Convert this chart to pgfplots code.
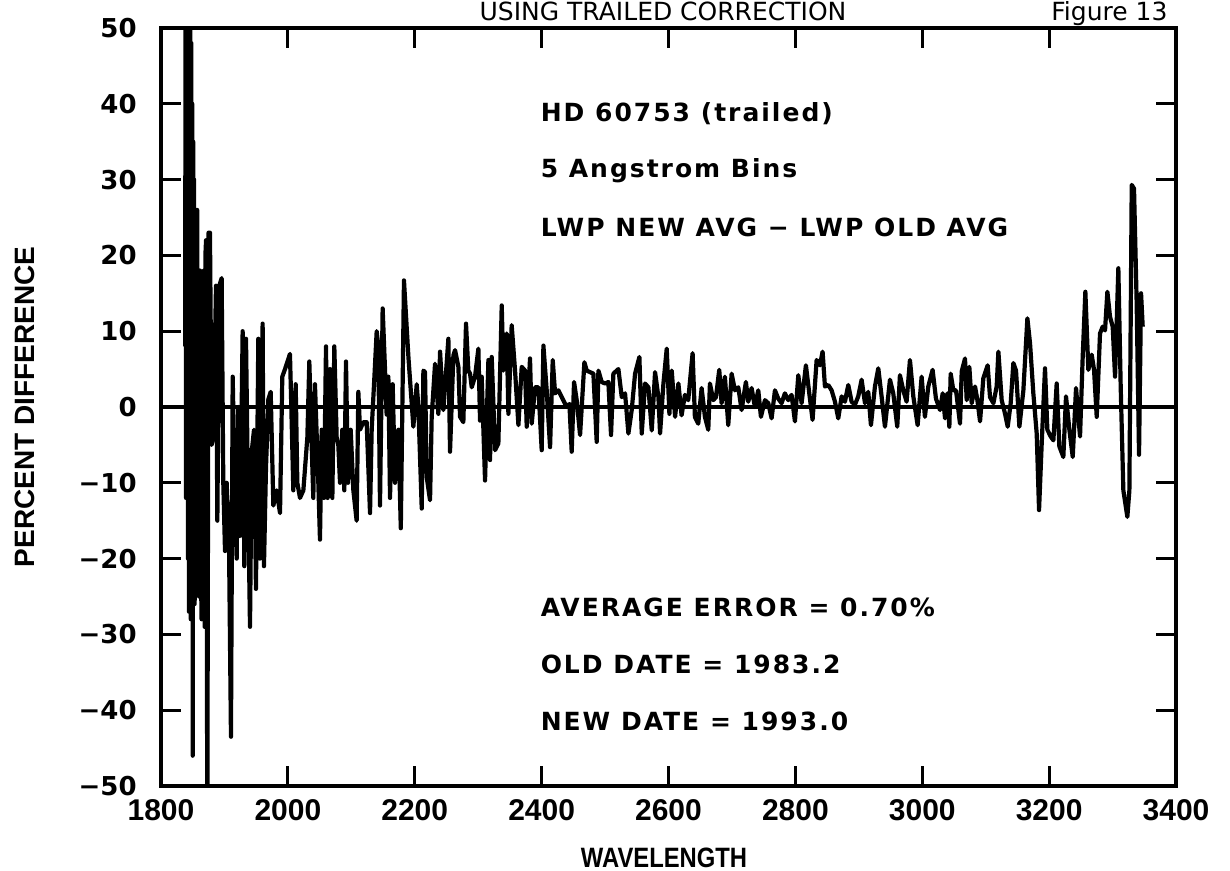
\documentclass[border=0pt]{standalone}
\usepackage{fontspec}
\setmainfont{Liberation Sans}
\newfontfamily\djv{DejaVu Sans}
\newfontfamily\annfont[LetterSpace=8]{DejaVu Sans}
\newfontfamily\labfont[FakeStretch=0.85]{Liberation Sans}
\usepackage{pgfplots}
\pgfplotsset{compat=1.18}
\usetikzlibrary{calc}
\begin{document}
\begin{tikzpicture}
\begin{axis}[
  name=ax,
  scale only axis, width=507.5pt, height=379pt,
  xmin=1800, xmax=3400, ymin=-50, ymax=50,
  xtick={1800,2000,2200,2400,2600,2800,3000,3200,3400},
  ytick={-50,-40,-30,-20,-10,0,10,20,30,40,50},
  xticklabels={1800,2000,2200,2400,2600,2800,3000,3200,3400},
  yticklabels={−50,−40,−30,−20,−10,0,10,20,30,40,50},
  tick align=inside, major tick length=10pt,
  every tick/.style={line width=1.6pt, black},
  axis line style={line width=1.8pt},
  xticklabel style={font=\fontsize{15}{15}\selectfont\bfseries, anchor=center, yshift=-12pt},
  yticklabel style={font=\djv\fontsize{13}{13}\selectfont\bfseries, anchor=east, inner sep=0pt, xshift=-12pt},
  clip mode=individual,
]
\addplot[black, line width=1.6pt] coordinates {(1800,0) (3400,0)};
\addplot[black, line width=2.1pt, line join=round] coordinates {
(1838,8) (1838.8,55) (1839.5,-12) (1840.2,55) (1841,-10) (1841.7,55) (1842.5,-20) (1843.2,55) (1844,-27) (1844.8,55) (1845.5,-25) (1846.2,52) (1847,-28) (1847.8,48) (1848.5,-22) (1849.2,40) (1850,-46) (1850.8,35) (1851.5,-20) (1852.2,30) (1853,-26) (1855,-4)
(1857,26) (1858.5,-10) (1860,-25) (1861.5,18) (1862.7,-20) (1864,-28) (1865.3,17) (1866.7,18) (1868.8,-29) (1870,20) (1871,22) (1873,-56) (1875,23) (1876,-3) (1877.2,23)
(1879.8,-5) (1882.5,-4) (1886.7,16) (1888.8,-15) (1891.9,16) (1895.6,17) (1898.2,-10) (1900.9,-19) (1903.5,-10) (1907.2,-18)
(1910.3,-43.5) (1913,4) (1916.6,-12) (1919.3,-20) (1921.9,0) (1924.5,-17) (1928.7,10) (1931.3,-21) (1934,9) (1936.6,-8)
(1940.3,-29) (1942.9,-6) (1946.6,-3) (1949.7,-24) (1953.4,9) (1956,-20) (1960.2,11) (1962.3,-21) (1965.5,-8) (1969.2,1)
(1972.9,2) (1977.1,-13) (1982.3,-11) (1987.6,-14) (1991.2,4) (1995.5,5) (2003.3,7) (2006,-2) (2008.6,-11) (2012.3,3)
(2014.9,-10) (2019.1,-12) (2024.4,-11) (2030.7,-4) (2033.8,6) (2037.5,-5) (2040.1,-12) (2042.7,3) (2048,-10) (2050.6,-17.5)
(2053.3,-3) (2056.9,-12) (2060.1,8) (2062.7,-12) (2066.4,5) (2070.1,-12) (2073.2,8) (2076.9,-4) (2079.5,-5) (2082.2,-10)
(2085.8,-3) (2089,-11) (2091.6,6) (2094.8,-10) (2099,-3) (2103.2,-11) (2108.4,-15) (2111.1,2) (2113.7,-3) (2119,-2)
(2124.2,-2) (2129.5,-14) (2132.1,-3) (2135.8,3) (2140,10) (2142.6,8) (2145.2,-13) (2149.4,13) (2153.1,5) (2155.7,-1)
(2158.4,4) (2161,-12) (2165.2,3) (2168.9,-10) (2174.1,-3) (2178,-16) (2183,16.7) (2190,6.6) (2197.8,-2.6) (2203.1,3)
(2205.7,0) (2211,-13.4) (2213.6,4.8) (2216.2,4.6) (2218.8,-9.2) (2224.1,-12.3) (2226.7,-1.3) (2232,5.7) (2237.2,-0.9) (2239.9,7.3)
(2245.1,-0.4) (2253,9) (2255.6,-5.9) (2260.9,6.8) (2263.5,7.5) (2268.8,5.3) (2271.4,-1.3) (2276.6,-2) (2280.8,11) (2284.5,4.8)
(2287.2,4.4) (2289.8,2.6) (2295,4) (2300.3,7.7) (2302.9,-1.8) (2305.5,4) (2310.8,-9.7) (2316.1,6.2) (2318.7,-7) (2321.3,6.6)
(2326.6,-5.7) (2331.8,-4.8) (2337.1,13.4) (2339.7,4.8) (2345,9.7) (2347.6,-0.9) (2352.8,10.8) (2358.1,4.8) (2363.4,-2.4) (2368.6,5.3)
(2373.9,4.8) (2376.5,-2.6) (2381.7,6.4) (2384.4,-2.2) (2389.6,2.6) (2394.9,2.6) (2400.1,-5.7) (2402.8,8.1) (2408,2.2) (2413.3,-5.3)
(2417.5,6.2) (2421.2,1.8) (2426.4,2.2) (2431.7,1.3) (2439.5,0) (2443.8,0.4) (2447.4,-5.9) (2451.1,3.3) (2455.3,0.9) (2460.6,-3.7)
(2467.4,5.9) (2471.1,4.8) (2476.3,4.6) (2481.6,4.4) (2486.8,-4.6) (2489.5,4.8) (2494.7,3.3) (2500,3.1) (2505.2,3.3) (2509.4,-3.7)
(2513.1,4.4) (2521,5) (2526.3,1.3) (2531.5,1.8) (2536.8,-3.5) (2542,-0.4) (2547.3,4.4) (2554.1,6.6) (2557.8,-3.5) (2563,3.1)
(2568.3,2.6) (2573.6,-3.1) (2578.8,4.6) (2584.1,1.3) (2586.7,-3.5) (2592,3.1) (2597.2,7.7) (2601.4,-0.9) (2605.1,4.8) (2610.4,-1.3)
(2615.6,3.1) (2620.6,-1.1) (2625.9,1.6) (2631.1,0.9) (2638,7.1) (2641.6,-1.3) (2646.9,-2.2) (2652.2,2.5) (2657.4,-1.3) (2662.7,-3)
(2665.3,3.1) (2670.6,0.9) (2674.8,1.3) (2680,4.9) (2683.7,0.5) (2688.9,4) (2694.2,-2.4) (2699.5,4.4) (2704.7,2.2) (2710,2.6)
(2715.2,-0.4) (2722,3.3) (2725.7,0.7) (2731,2.5) (2736.2,0) (2741.5,2.2) (2745.7,-1.3) (2752,0.9) (2757.3,0.5) (2762.5,-1.5)
(2767.8,2.2) (2773,1.1) (2778.3,0.5) (2783.5,1.8) (2788.8,0.9) (2794,1.6) (2799.3,-1.9) (2804.6,4.2) (2809.8,0.5) (2816.6,5.5)
(2821.9,1.8) (2827.1,-1.7) (2833.5,6.2) (2838.7,5.5) (2842.9,7.3) (2846.6,2.7) (2851.8,2.9) (2857.1,2.2) (2862.4,0.7) (2867.6,-1.5)
(2872.9,1.4) (2878.1,0.7) (2883.4,2.9) (2888.6,0.7) (2893.9,0.3) (2899.1,1.4) (2904.4,3.6) (2909.7,0.5) (2914.9,2) (2919.1,-2.4)
(2925.4,2.7) (2930.7,5.1) (2935.9,1.4) (2941.2,-2.6) (2949.1,3.6) (2954.3,1.8) (2960.6,-2.6) (2964.8,4.2) (2970.1,2.2) (2975.3,0.7)
(2980.6,6.2) (2985.9,1.4) (2992.7,-2.4) (2999,4) (3004.2,-1.3) (3009.5,2.7) (3016.3,4.9) (3021.6,1.1) (3028,-0.4) (3032.2,1.8)
(3035.9,-1.5) (3039.6,1.8) (3042.7,-2.6) (3044.8,4.4) (3049,2.2) (3053.2,2.2) (3059.5,-2.2) (3062.2,4.7) (3067.4,6.4) (3070,0.9)
(3074.2,5.3) (3077.9,0.5) (3083.2,2.7) (3086.9,0.9) (3091.1,-1.9) (3096.3,3.8) (3103.1,5.5) (3106.8,1.3) (3112.1,0.5) (3117.3,2.7)
(3120,7.3) (3125.2,0.9) (3130.5,-0.9) (3134.7,-2.6) (3139.4,0.5) (3143.6,5.8) (3147.8,4.8) (3153.1,-2.6) (3159.4,2.2) (3165.7,11.7)
(3169.9,8.4) (3175.1,1.8) (3180.4,-3.5) (3184.1,-13.6) (3188.3,-4.8) (3193.5,5.1) (3197.2,-3) (3202.5,-3.9) (3206.7,-4.4) (3211.9,3.1)
(3216.1,-5.2) (3222.4,-6.6) (3226.6,1.4) (3231.9,-3) (3237.2,-6.6) (3242.4,2.5) (3248.7,-3.9) (3252.9,6.6) (3257.1,15.2) (3261.8,4.9)
(3267.1,6.9) (3270.8,4.9) (3275,-1.3) (3280.2,9.7) (3284.4,10.6) (3288.1,10.1) (3291.8,15.2) (3296,11.9) (3300.2,10.6) (3303.9,4)
(3309.1,18.3) (3312.8,2.7) (3317,-11) (3323.3,-14.5) (3326.5,-11) (3330.2,29.3) (3333.8,28.8) (3338,13.7) (3341.7,-6.3) (3344.9,15)
(3347.5,10.6)
};
\tikzset{ann/.style={anchor=base west, inner sep=0pt, font=\annfont\bfseries\fontsize{12.5}{12.5}\selectfont}}
\node[ann] at (axis cs:2398,37.6) {HD 60753 (trailed)};
\node[ann] at (axis cs:2398,30.3) {5 Angstrom Bins};
\node[ann] at (axis cs:2398,22.5) {LWP NEW AVG − LWP OLD AVG};
\node[ann] at (axis cs:2398,-27.6) {AVERAGE ERROR = 0.70\%};
\node[ann] at (axis cs:2398,-35.2) {OLD DATE = 1983.2};
\node[ann] at (axis cs:2398,-42.7) {NEW DATE = 1993.0};
\end{axis}
\node[rotate=90, font=\bfseries\fontsize{14}{14}\selectfont] at ($(ax.south west)+(-68pt,189.5pt)$) {PERCENT DIFFERENCE};
\node[font=\labfont\bfseries\fontsize{14}{14}\selectfont] at ($(ax.south west)+(251.5pt,-36pt)$) {WAVELENGTH};
\node[anchor=base, inner sep=0pt, font=\djv\fontsize{12.5}{12.5}\selectfont] at ($(ax.south west)+(251pt,382.5pt)$) {USING TRAILED CORRECTION};
\node[anchor=base west, inner sep=0pt, font=\djv\fontsize{12.5}{12.5}\selectfont] at ($(ax.south west)+(445pt,382.5pt)$) {Figure 13};
\pgfresetboundingbox
\path[use as bounding box] ($(ax.south west)+(-80.5pt,-42.5pt)$) rectangle ($(ax.south west)+(534.5pt,393pt)$);
\end{tikzpicture}
\end{document}
